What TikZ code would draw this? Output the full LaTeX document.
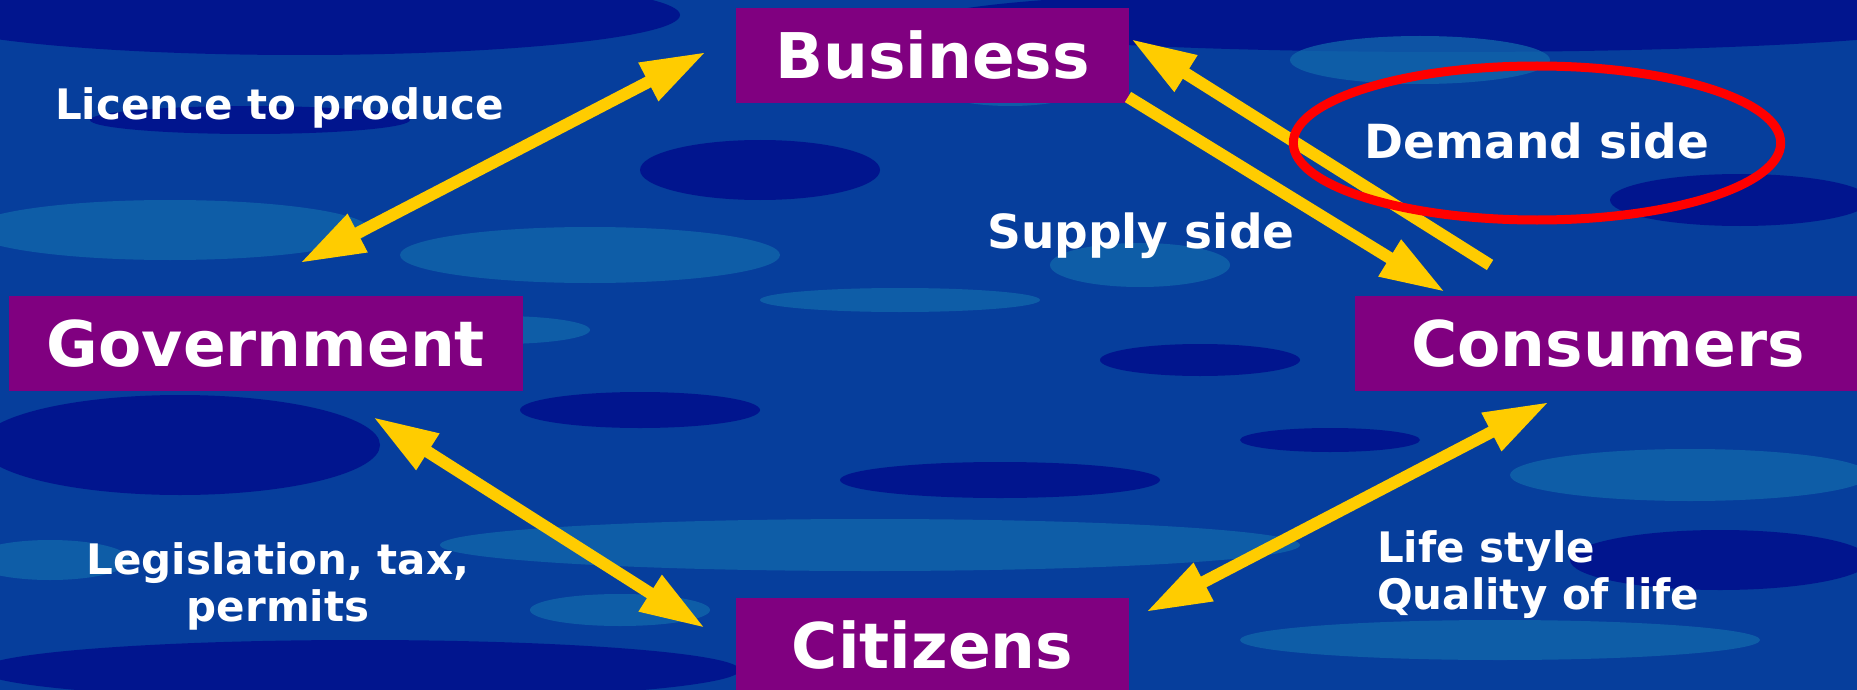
\documentclass[tikz,border=0pt]{standalone}
\usepackage{fontspec}
\setmainfont{DejaVu Sans}
\usetikzlibrary{arrows.meta,shapes.geometric}

\definecolor{boxpurple}{RGB}{128,0,128}
\definecolor{arrowgold}{RGB}{255,204,0}
\definecolor{seanavy}{RGB}{0,8,138}
\definecolor{seablue}{RGB}{6,62,156}
\definecolor{sealight}{RGB}{18,104,172}

\begin{document}
\begin{tikzpicture}[x=1pt,y=-1pt]
      \tikzstyle{box}=[rectangle,fill=boxpurple,text=white,inner sep=0pt,minimum height=95pt,font=\fontsize{63}{70}\selectfont\bfseries]
      \tikzstyle{lbl}=[text=white,inner sep=0pt,font=\fontsize{42}{47}\selectfont\bfseries]
      \tikzstyle{biglbl}=[text=white,inner sep=0pt,font=\fontsize{47}{52}\selectfont\bfseries]
      \tikzstyle{twoway}=[color=arrowgold,line width=12pt,{Triangle[length=65pt,width=40pt]}-{Triangle[length=65pt,width=40pt]}]
      \tikzstyle{oneway}=[color=arrowgold,line width=12pt,-{Triangle[length=65pt,width=40pt]}]

      \useasboundingbox (0,0) rectangle (1857,690);

      % water background
      \fill[seablue] (0,0) rectangle (1857,690);
      \foreach \cx/\cy/\rx/\ry/\c in {
          300/15/380/40/seanavy, 1450/20/520/32/seanavy, 760/170/120/30/seanavy,
          170/230/200/30/sealight, 590/255/190/28/sealight, 1420/60/130/24/sealight,
          180/445/200/50/seanavy, 640/410/120/18/seanavy, 1200/360/100/16/seanavy,
          870/545/430/26/sealight, 1690/475/180/26/sealight, 1140/265/90/22/sealight,
          360/670/380/30/seanavy, 1720/560/150/30/seanavy, 1000/480/160/18/seanavy,
          1740/200/130/26/seanavy, 500/330/90/14/sealight, 250/120/160/14/seanavy,
          900/300/140/12/sealight, 1500/640/260/20/sealight, 620/610/90/16/sealight,
          1330/440/90/12/seanavy, 50/560/80/20/sealight, 1010/90/70/16/sealight}
        \fill[\c,opacity=.75] (\cx,\cy) ellipse [x radius=\rx pt, y radius=\ry pt];

      % actors
      \node[box,minimum width=393pt](bus) at (932.5,55.5){Business};
      \node[box,minimum width=514pt](gov) at (266,343.5){Government};
      \node[box,minimum width=506pt](con) at (1608,343.5){Consumers};
      \node[box,minimum width=393pt](cit) at (932.5,645.5){Citizens};

      % arrow ends
      \coordinate (gb1) at (300,263);
      \coordinate (gb2) at (706,52);
      \coordinate (sup1) at (1128,97);
      \coordinate (sup2) at (1445,292);
      \coordinate (dem1) at (1490,265);
      \coordinate (dem2) at (1131,39);
      \coordinate (gc1) at (373,417);
      \coordinate (gc2) at (705,628);
      \coordinate (cc1) at (1146,612);
      \coordinate (cc2) at (1549,402);

      \path[twoway]
      (gb1) edge (gb2)
      (gc1) edge (gc2)
      (cc1) edge (cc2);

      \path[oneway]
      (sup1) edge (sup2)
      (dem1) edge (dem2);

      % labels
      \node[lbl,anchor=base west](lic) at (55,120){Licence to produce};
      \node[biglbl,anchor=base west](sup) at (987,248){Supply side};
      \node[biglbl,ellipse,draw=red,line width=9pt,minimum width=484pt,minimum height=154pt](dem) at (1537,143){\raisebox{5pt}{Demand side}};
      \node[lbl,align=center](leg) at (278,586){Legislation, tax,\\permits};
      \node[lbl,align=left,anchor=west](life) at (1377,575){Life style\\Quality of life};
    \end{tikzpicture}
\end{document}
